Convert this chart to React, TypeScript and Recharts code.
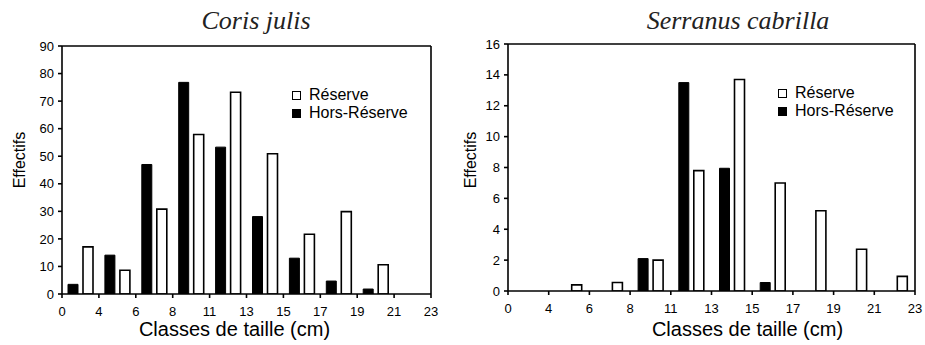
import React from 'react';
import { BarChart, Bar, XAxis, YAxis, Label, ReferenceLine } from 'recharts';

// size classes (cm) and their boundary tick labels
const classes = ['0-4', '4-6', '6-8', '8-11', '11-13', '13-15', '15-17', '17-19', '19-21', '21-23'];
const classTicks = ['0', '4', '6', '8', '11', '13', '15', '17', '19', '21', '23'];

const corisReserve = [17.1, 8.6, 30.8, 57.9, 73.2, 50.9, 21.7, 29.9, 10.6, null];
const corisHors = [3.5, 14.1, 47.0, 76.8, 53.3, 28.1, 13.0, 4.7, 1.8, null];
const corisYTicks = [0, 10, 20, 30, 40, 50, 60, 70, 80, 90];

const serranusReserve = [null, 0.4, 0.55, 2.0, 7.8, 13.7, 7.0, 5.2, 2.7, 0.95];
const serranusHors = [null, null, null, 2.1, 13.5, 7.95, 0.55, null, null, null];
const serranusYTicks = [0, 2, 4, 6, 8, 10, 12, 14, 16];

const series = [
  { key: 'reserve', name: 'Réserve', fill: '#fff' },
  { key: 'hors', name: 'Hors-Réserve', fill: '#000' },
];

const SANS = '"Liberation Sans", Arial, sans-serif';
const SERIF = '"Liberation Serif", "Times New Roman", serif';

const build = (reserve: (number | null)[], hors: (number | null)[]) =>
  classes.map((c, i) => ({ cls: c, reserve: reserve[i], hors: hors[i] }));

// class boundaries: label at the left edge of each band, plus the last right edge
const BoundaryTick = (props: any) => {
  const { x, y, payload, index } = props;
  const half = payload.offset != null ? payload.offset : 0;
  const marks = [{ x: x - half, label: classTicks[index] }];
  if (index === classes.length - 1) marks.push({ x: x + half, label: classTicks[index + 1] });
  return (
    <g>
      {marks.map((m) => (
        <g key={m.label}>
          <line x1={m.x} x2={m.x} y1={y} y2={y + 4} stroke="#000" strokeWidth={1.6} />
          <text x={m.x} y={y + 22} textAnchor="middle" fontFamily={SANS} fontSize={13} fill="#000">
            {m.label}
          </text>
        </g>
      ))}
    </g>
  );
};

const LegendBox = ({ left, top }: { left: number; top: number }) => (
  <div
    style={{
      position: 'absolute',
      left,
      top,
      fontFamily: SANS,
      fontSize: 16,
      lineHeight: '18px',
      color: '#000',
    }}
  >
    {series.map((s) => (
      <div key={s.key} style={{ whiteSpace: 'nowrap' }}>
        <span
          style={{
            display: 'inline-block',
            width: 9,
            height: 9,
            boxSizing: 'border-box',
            border: '1.5px solid #000',
            background: s.fill,
            marginRight: 8,
            verticalAlign: 'baseline',
          }}
        />
        {s.name}
      </div>
    ))}
  </div>
);

type PanelProps = {
  title: string;
  titleX: number;
  width: number;
  margin: { top: number; right: number; bottom: number; left: number };
  yAxisWidth: number;
  xAxisHeight: number;
  yMax: number;
  yTicks: number[];
  reserve: (number | null)[];
  hors: (number | null)[];
  legendPos: { left: number; top: number };
  xLabelDx: number;
  xLabelDy: number;
  yLabelY: number;
  yLabelX: number;
};

function Panel(p: PanelProps) {
  const data = build(p.reserve, p.hors);
  const axisStroke = { stroke: '#000', strokeWidth: 1.6 };
  return (
    <div style={{ position: 'relative', width: p.width, height: 345 }}>
      <div
        style={{
          position: 'absolute',
          left: p.titleX - 150,
          width: 300,
          top: 6,
          textAlign: 'center',
          fontFamily: SERIF,
          fontStyle: 'italic',
          fontSize: 26,
          lineHeight: '30px',
          color: '#222',
        }}
      >
        {p.title}
      </div>
      <BarChart
        width={p.width}
        height={345}
        data={data}
        margin={p.margin}
        barSize={10}
        barGap={5}
      >
        <XAxis
          dataKey="cls"
          interval={0}
          height={p.xAxisHeight}
          axisLine={axisStroke}
          tickLine={false}
          tickSize={0}
          tickMargin={0}
          tick={<BoundaryTick />}
        >
          <Label
            content={(lp: any) => {
              const vb = lp.viewBox;
              return (
                <text
                  x={vb.x + vb.width / 2 + p.xLabelDx}
                  y={vb.y + p.xLabelDy}
                  textAnchor="middle"
                  fontFamily={SANS}
                  fontSize={20}
                  fill="#000"
                >
                  Classes de taille (cm)
                </text>
              );
            }}
          />
        </XAxis>
        <YAxis
          domain={[0, p.yMax]}
          ticks={p.yTicks}
          interval={0}
          width={p.yAxisWidth}
          allowDataOverflow
          axisLine={axisStroke}
          tickLine={axisStroke}
          tickSize={4}
          tickMargin={4}
          tick={{ fill: '#000', fontFamily: SANS, fontSize: 13 }}
        >
          <Label
            content={() => (
              <text
                x={p.yLabelX}
                y={p.yLabelY}
                transform={`rotate(-90 ${p.yLabelX} ${p.yLabelY})`}
                textAnchor="middle"
                dominantBaseline="central"
                fontFamily={SANS}
                fontSize={16}
                fill="#000"
              >
                Effectifs
              </text>
            )}
          />
        </YAxis>
        <ReferenceLine y={p.yMax} stroke="#000" strokeWidth={1.6} />
        <ReferenceLine x={classes[classes.length - 1]} position="end" stroke="#000" strokeWidth={1.6} />
        <Bar dataKey="hors" name="Hors-Réserve" fill="#000" stroke="#000" strokeWidth={1} isAnimationActive={false} />
        <Bar dataKey="reserve" name="Réserve" fill="#fff" stroke="#000" strokeWidth={1.6} isAnimationActive={false} />
      </BarChart>
      <LegendBox left={p.legendPos.left} top={p.legendPos.top} />
    </div>
  );
}

export default function App() {
  return (
    <div
      style={{
        position: 'absolute',
        left: 0,
        top: 0,
        width: 925,
        height: 345,
        background: '#fff',
        display: 'flex',
      }}
    >
      <Panel
        title="Coris julis"
        titleX={256}
        width={460}
        margin={{ top: 46, right: 29, bottom: 0, left: 0 }}
        yAxisWidth={62}
        xAxisHeight={51}
        yMax={90}
        yTicks={corisYTicks}
        reserve={corisReserve}
        hors={corisHors}
        legendPos={{ left: 292, top: 86 }}
        xLabelDx={-12}
        xLabelDy={42}
        yLabelX={19}
        yLabelY={160}
      />
      <Panel
        title="Serranus cabrilla"
        titleX={278}
        width={465}
        margin={{ top: 44, right: 10, bottom: 0, left: 0 }}
        yAxisWidth={48}
        xAxisHeight={54}
        yMax={16}
        yTicks={serranusYTicks}
        reserve={serranusReserve}
        hors={serranusHors}
        legendPos={{ left: 318, top: 84 }}
        xLabelDx={36}
        xLabelDy={45}
        yLabelX={10}
        yLabelY={160}
      />
    </div>
  );
}
